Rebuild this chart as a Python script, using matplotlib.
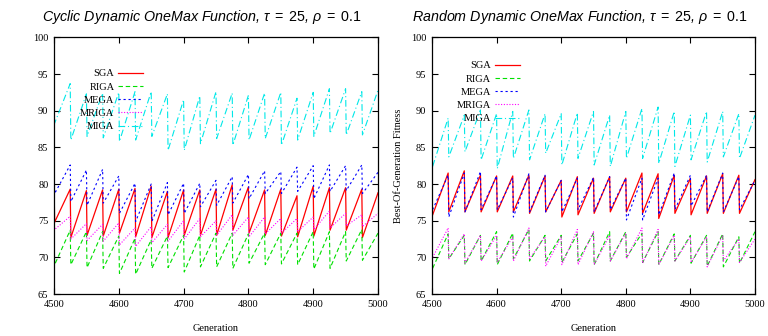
import numpy as np
import matplotlib
matplotlib.use("Agg")
import matplotlib.pyplot as plt

plt.rcParams['mathtext.fontset'] = 'custom'
plt.rcParams['mathtext.rm'] = 'Liberation Sans'
plt.rcParams['mathtext.it'] = 'Liberation Sans:italic'

# ---------------- data (per change period of 25 generations) ----------------
period_starts = list(range(4500, 5000, 25))
series_names = ["SGA", "RIGA", "MEGA", "MRIGA", "MIGA"]

# Cyclic Dynamic OneMax
cyc_init = {"SGA": 80.0, "RIGA": 73.7, "MEGA": 82.6, "MRIGA": 74.4, "MIGA": 90.5}
cyc_low = {
    "SGA":   [74.8, 72.7, 73.0, 72.9, 73.3, 72.8, 72.7, 72.7, 73.0, 73.0,
              73.0, 73.7, 73.3, 73.0, 72.9, 72.8, 72.9, 73.7, 73.7, 72.7],
    "RIGA":  [69.0, 69.0, 68.6, 68.5, 67.8, 67.7, 68.5, 68.6, 68.0, 68.7,
              68.7, 68.5, 69.2, 69.0, 69.1, 69.0, 68.4, 68.5, 69.5, 69.6],
    "MEGA":  [78.7, 77.6, 77.1, 77.4, 76.0, 74.9, 74.9, 75.8, 76.0, 76.9,
              77.1, 77.4, 78.0, 78.7, 78.7, 79.0, 78.0, 79.0, 79.1, 78.7],
    "MRIGA": [73.8, 72.5, 72.3, 72.2, 71.7, 71.5, 72.0, 72.2, 72.5, 72.8,
              73.0, 73.0, 72.8, 73.2, 73.3, 73.5, 73.8, 74.0, 74.3, 74.2],
    "MIGA":  [88.3, 86.0, 86.5, 86.3, 85.8, 86.0, 86.5, 84.6, 84.6, 85.5,
              86.2, 85.3, 86.0, 86.2, 85.3, 86.0, 86.5, 86.9, 86.7, 86.7],
}
cyc_high = {
    "SGA":   [79.3, 79.1, 79.2, 79.3, 79.4, 79.7, 79.0, 79.2, 79.2, 79.3,
              79.9, 79.6, 79.2, 79.3, 78.4, 79.7, 79.5, 79.5, 79.3, 78.8],
    "RIGA":  [73.7, 73.5, 73.5, 72.9, 72.6, 72.4, 72.9, 73.0, 73.0, 73.3,
              73.3, 73.2, 73.3, 73.3, 73.3, 73.5, 73.5, 73.5, 73.8, 73.3],
    "MEGA":  [82.6, 81.9, 82.0, 81.1, 80.1, 80.0, 80.2, 80.1, 80.1, 80.5,
              81.0, 81.3, 81.8, 81.7, 82.3, 82.5, 82.6, 82.5, 82.6, 81.6],
    "MRIGA": [75.6, 74.6, 74.5, 74.7, 74.0, 74.2, 74.5, 75.0, 75.3, 75.0,
              75.8, 75.5, 75.5, 75.3, 75.3, 75.5, 76.3, 76.0, 75.8, 76.0],
    "MIGA":  [93.7, 92.3, 92.4, 92.5, 92.6, 92.6, 92.3, 91.5, 92.0, 92.6,
              92.4, 92.1, 92.4, 92.5, 91.7, 92.5, 93.0, 93.0, 92.6, 92.8],
}

# Random Dynamic OneMax
rnd_low = {
    "SGA":   [75.8, 76.2, 76.2, 76.2, 76.2, 76.2, 76.0, 76.2, 75.5, 75.8,
              76.0, 76.2, 76.2, 76.0, 75.3, 76.0, 75.8, 76.0, 76.0, 76.0],
    "RIGA":  [68.5, 69.8, 69.0, 69.5, 69.0, 69.8, 69.5, 69.5, 69.3, 69.5,
              69.0, 69.5, 70.0, 69.3, 69.0, 69.5, 69.2, 68.8, 68.7, 69.2],
    "MEGA":  [76.5, 75.5, 76.2, 76.5, 76.5, 75.5, 76.2, 76.2, 76.2, 76.5,
              76.2, 76.5, 75.1, 75.1, 75.8, 76.5, 77.0, 76.2, 76.2, 76.5],
    "MRIGA": [70.0, 69.8, 69.2, 69.5, 69.3, 69.5, 69.8, 68.8, 69.0, 69.0,
              69.0, 69.5, 69.8, 69.2, 69.0, 69.5, 69.3, 68.7, 69.5, 69.3],
    "MIGA":  [82.4, 83.7, 84.4, 83.3, 82.1, 83.5, 83.3, 84.2, 82.6, 83.5,
              82.6, 82.4, 83.5, 83.5, 82.8, 82.4, 83.3, 83.0, 83.7, 83.5],
}
rnd_high = {
    "SGA":   [81.5, 81.8, 81.2, 81.1, 81.1, 81.2, 81.1, 80.5, 81.0, 80.8,
              81.0, 80.8, 81.5, 81.4, 81.2, 80.8, 81.1, 81.4, 81.2, 80.6],
    "RIGA":  [73.2, 73.0, 73.0, 73.5, 73.3, 73.8, 73.0, 73.0, 73.2, 73.3,
              73.5, 73.5, 73.3, 73.5, 73.2, 73.0, 73.0, 73.2, 72.8, 73.5],
    "MEGA":  [81.2, 81.5, 81.7, 81.1, 80.8, 81.4, 81.2, 80.5, 80.8, 80.9,
              81.0, 80.8, 80.8, 80.8, 81.5, 81.2, 81.2, 81.5, 81.0, 80.5],
    "MRIGA": [74.0, 73.2, 73.0, 73.0, 72.8, 74.0, 72.8, 72.8, 73.8, 73.5,
              73.0, 73.3, 74.0, 73.8, 73.0, 72.8, 72.8, 73.0, 72.5, 72.5],
    "MIGA":  [89.0, 89.4, 90.1, 89.6, 89.9, 90.1, 89.6, 89.6, 89.7, 89.9,
              89.4, 89.9, 90.3, 90.5, 89.9, 89.4, 89.9, 89.9, 89.6, 89.4],
}

x_ticks = [4500, 4600, 4700, 4800, 4900, 5000]
y_ticks = [65, 70, 75, 80, 85, 90, 95, 100]
titles = [r"Cyclic Dynamic OneMax Function, $\tau\;=\;25$, $\rho\;=\;0.1$",
          r"Random Dynamic OneMax Function, $\tau\;=\;25$, $\rho\;=\;0.1$"]

# ---------------- styles ----------------
styles = {
    "SGA":   dict(color="#ff0000", lw=0.9, linestyle="-"),
    "RIGA":  dict(color="#00e000", lw=0.8, dashes=(4, 2.5)),
    "MEGA":  dict(color="#0000ff", lw=0.8, dashes=(2, 2.5)),
    "MRIGA": dict(color="#ff00ff", lw=0.8, dashes=(1, 1.5)),
    "MIGA":  dict(color="#00e8e8", lw=0.8, dashes=(6, 2.5, 1, 2.5)),
}


def series_xy(low, high, init=None):
    xs, ys = [], []
    if init is not None:
        xs.append(period_starts[0])
        ys.append(init)
    for s, lo, hi in zip(period_starts, low, high):
        xs += [s + 1, s + 25]
        ys += [lo, hi]
    return xs, ys


fig = plt.figure(figsize=(7.68, 3.36), dpi=100)
ax1 = fig.add_axes([54 / 768, 42 / 336, 324 / 768, 256.6 / 336])
ax2 = fig.add_axes([432 / 768, 42 / 336, 323 / 768, 256.6 / 336])

panels = [
    (ax1, cyc_low, cyc_high, cyc_init, (0.275, 0.877)),
    (ax2, rnd_low, rnd_high, None, (0.272, 0.908)),
]

serif = "Liberation Serif"
for i, (ax, low, high, init, leg_anchor) in enumerate(panels):
    for name in series_names:
        xs, ys = series_xy(low[name], high[name], None if init is None else init[name])
        ax.plot(xs, ys, label=name, **styles[name])
    ax.set_xlim(4500, 5000)
    ax.set_ylim(65, 100)
    ax.set_xticks(x_ticks)
    ax.set_yticks(y_ticks)
    ax.tick_params(direction="in", top=True, right=True, length=4, width=0.8,
                   labelsize=7.5, pad=4)
    for lab in ax.get_xticklabels() + ax.get_yticklabels():
        lab.set_fontfamily(serif)
    for sp in ax.spines.values():
        sp.set_linewidth(0.9)
    ax.set_xlabel("Generation", fontfamily=serif, fontsize=7.5, labelpad=11)
    ax.set_title(titles[i], fontfamily="Liberation Sans", fontstyle="italic",
                 fontsize=10.3, pad=12, x=0.457)
    leg = ax.legend(loc="upper right", bbox_to_anchor=leg_anchor, frameon=False,
                    markerfirst=False, prop={"family": serif, "size": 7.5},
                    handlelength=2.4, handletextpad=0.35, labelspacing=0.38,
                    borderpad=0, borderaxespad=0)

ax2.set_ylabel("Best-Of-Generation Fitness", fontfamily=serif, fontsize=7.5,
               labelpad=6)

fig.savefig("out.png", dpi=100)
